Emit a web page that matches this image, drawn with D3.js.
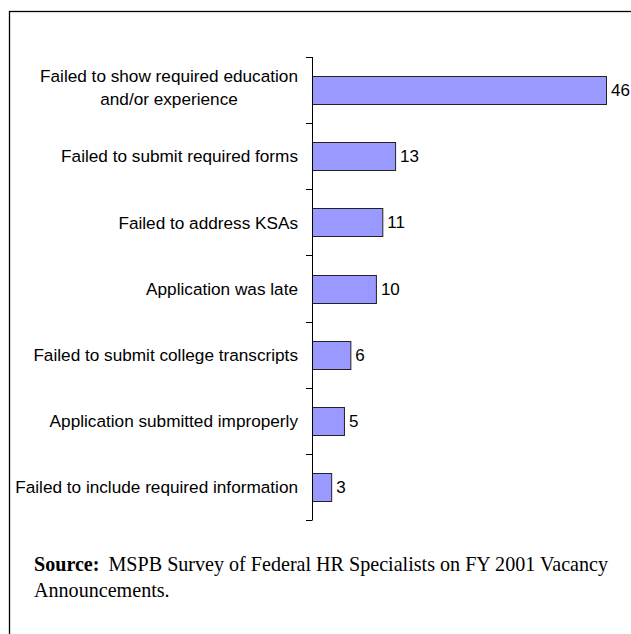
<!DOCTYPE html>
<html>
<head>
<meta charset="utf-8">
<script src="https://cdn.jsdelivr.net/npm/d3@7"></script>
<style>
  body { margin: 0; background: #fff; }
  svg { display: block; }
</style>
</head>
<body>
<div id="chart"></div>
<script>
// chart data
var categories = [
  "Failed to show required education\nand/or experience",
  "Failed to submit required forms",
  "Failed to address KSAs",
  "Application was late",
  "Failed to submit college transcripts",
  "Application submitted improperly",
  "Failed to include required information"
];
var counts = [46, 13, 11, 10, 6, 5, 3];
var sourceLines = ["MSPB Survey of Federal HR Specialists on FY 2001 Vacancy", "Announcements."];

var W = 631, H = 634;
var axisX = 312, plotTop = 57, plotBottom = 520;

var svg = d3.select("#chart").append("svg")
    .attr("width", W)
    .attr("height", H);

// frame (right and bottom edges run off the page)
svg.append("rect")
    .attr("x", 9.5).attr("y", 11.5)
    .attr("width", 700).attr("height", 700)
    .attr("fill", "none")
    .attr("stroke", "#000")
    .attr("stroke-width", 1.3);

var data = categories.map(function(c, i) { return {cat: c, n: counts[i]}; });

var x = d3.scaleLinear()
    .domain([0, 46])
    .range([axisX, 606]);

var y = d3.scaleBand()
    .domain(categories)
    .range([plotTop, plotBottom])
    .padding(0);

var bh = y.bandwidth() * 0.42;

// bars
svg.selectAll(".bar")
    .data(data)
  .enter().append("rect")
    .attr("class", "bar")
    .attr("x", x(0) + 0.5)
    .attr("y", function(d) { return Math.round(y(d.cat) + (y.bandwidth() - bh) / 2) + 0.5; })
    .attr("width", function(d) { return x(d.n) - x(0); })
    .attr("height", Math.round(bh))
    .attr("fill", "#9999ff")
    .attr("stroke", "#222")
    .attr("stroke-width", 1);

// value labels
svg.selectAll(".val")
    .data(data)
  .enter().append("text")
    .attr("class", "val")
    .attr("x", function(d) { return x(d.n) + 5; })
    .attr("y", function(d) { return y(d.cat) + y.bandwidth() / 2; })
    .attr("dy", "0.36em")
    .style("font-family", "Liberation Sans, Arial, sans-serif")
    .style("font-size", "17px")
    .text(function(d) { return d.n; });

// axis line with ticks on band boundaries
var tickYs = categories.map(function(c) { return y(c); }).concat([plotBottom]);
svg.append("line")
    .attr("x1", axisX + 0.5).attr("x2", axisX + 0.5)
    .attr("y1", plotTop).attr("y2", plotBottom)
    .attr("stroke", "#000");
svg.selectAll(".tick")
    .data(tickYs)
  .enter().append("line")
    .attr("class", "tick")
    .attr("x1", axisX - 6).attr("x2", axisX + 0.5)
    .attr("y1", function(d) { return Math.round(d) + 0.5; })
    .attr("y2", function(d) { return Math.round(d) + 0.5; })
    .attr("stroke", "#000");

// category labels, right edge at 298, multi-line ones centred on each other
var labels = svg.selectAll(".lab")
    .data(data)
  .enter().append("text")
    .attr("class", "lab")
    .style("font-family", "Liberation Sans, Arial, sans-serif")
    .style("font-size", "17.2px")
    .attr("fill", "#000");

labels.each(function(d) {
  var g = d3.select(this);
  var lines = d.cat.split("\n");
  var cy = y(d.cat) + y.bandwidth() / 2;
  var lh = 23.5;
  var shift = lines.length > 1 ? -3 : 0;
  var tmp = lines.map(function(l) {
    return g.append("tspan").text(l);
  });
  var widths = tmp.map(function(t) { return t.node().getComputedTextLength(); });
  var maxW = d3.max(widths);
  var centre = 298 - maxW / 2;
  tmp.forEach(function(t, i) {
    t.attr("x", centre)
     .attr("y", cy + shift + (i - (lines.length - 1) / 2) * lh)
     .attr("dy", "0.36em");
  });
  g.attr("text-anchor", "middle");
});

// source note
var src = svg.append("text")
    .attr("x", 34).attr("y", 571)
    .style("font-family", "Liberation Serif, Times New Roman, serif")
    .style("font-size", "20.1px");
src.append("tspan").style("font-weight", "bold").text("Source:");
src.append("tspan").attr("dx", 9).text(sourceLines[0]);
svg.append("text")
    .attr("x", 34).attr("y", 597)
    .style("font-family", "Liberation Serif, Times New Roman, serif")
    .style("font-size", "20.1px")
    .text(sourceLines[1]);
</script>
</body>
</html>
